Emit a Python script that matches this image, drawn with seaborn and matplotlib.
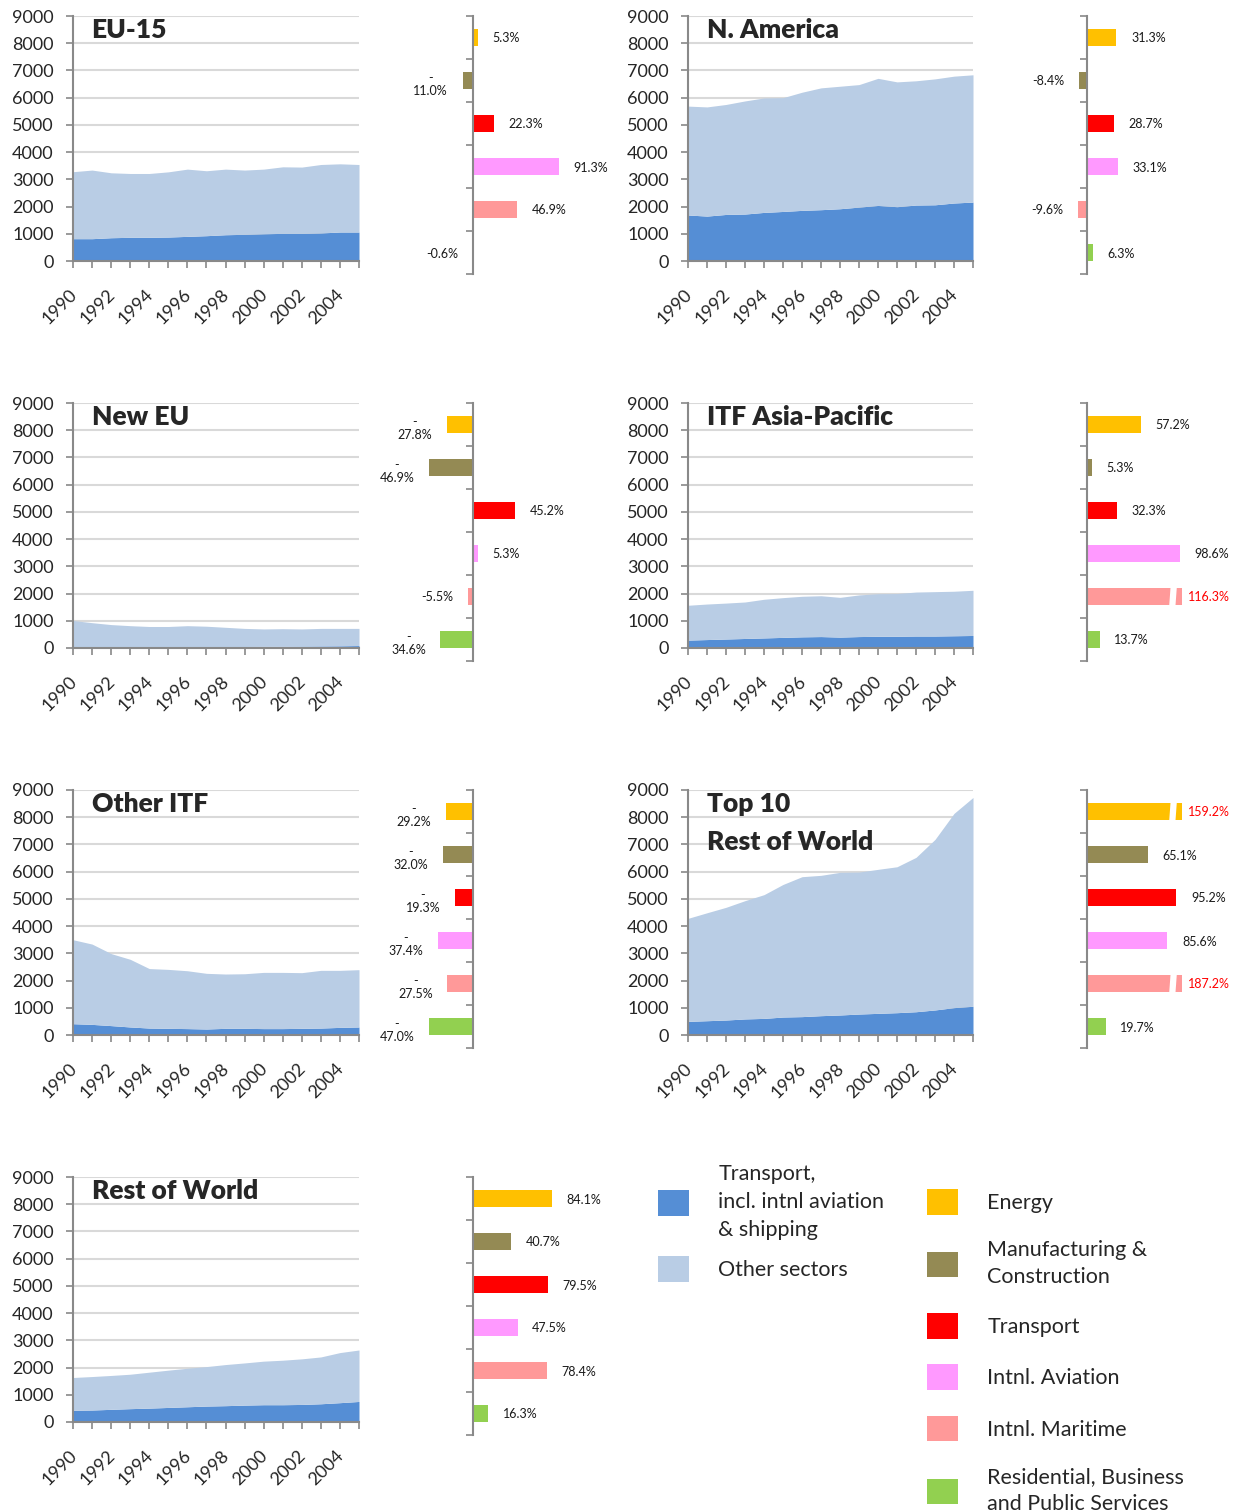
import matplotlib.pyplot as plt
import matplotlib.transforms as mtransforms
from matplotlib.patches import Patch
import seaborn as sns
import numpy as np
import pandas as pd

# ---- data -------------------------------------------------------------
years = list(range(1990, 2006))
year_labels = [str(y) if y % 2 == 0 and y < 2005 else "" for y in years]

# stacked areas: transport (incl. intnl aviation & shipping) + other sectors
eu15_transport = [820, 820, 855, 870, 870, 880, 905, 930, 965, 980, 1000, 1015, 1015, 1030, 1065, 1065]
eu15_other = [2460, 2520, 2385, 2345, 2345, 2395, 2470, 2385, 2410, 2360, 2375, 2445, 2435, 2515, 2505, 2480]

nam_transport = [1690, 1650, 1710, 1725, 1785, 1820, 1860, 1885, 1920, 1980, 2040, 1995, 2055, 2065, 2130, 2165]
nam_other = [4000, 4010, 4040, 4155, 4205, 4180, 4340, 4475, 4500, 4500, 4670, 4585, 4565, 4625, 4660, 4675]

neweu_transport = [40, 35, 35, 35, 40, 40, 45, 50, 50, 55, 60, 65, 70, 75, 80, 90]
neweu_other = [970, 895, 825, 785, 750, 750, 775, 750, 710, 665, 640, 645, 630, 645, 640, 630]

asia_transport = [290, 310, 330, 350, 370, 390, 410, 420, 400, 420, 430, 430, 440, 440, 450, 460]
asia_other = [1280, 1305, 1320, 1340, 1420, 1460, 1490, 1500, 1460, 1530, 1565, 1570, 1615, 1630, 1635, 1660]

oitf_transport = [415, 390, 345, 295, 255, 245, 235, 220, 245, 245, 235, 235, 245, 255, 280, 295]
oitf_other = [3085, 2950, 2645, 2485, 2185, 2165, 2125, 2045, 1995, 2005, 2065, 2065, 2045, 2120, 2095, 2105]

top10_transport = [500, 525, 550, 590, 610, 660, 675, 710, 735, 770, 795, 820, 855, 920, 1005, 1055]
top10_other = [3785, 3965, 4140, 4345, 4545, 4870, 5140, 5155, 5240, 5215, 5290, 5360, 5670, 6265, 7135, 7670]

row_transport = [430, 440, 465, 490, 510, 535, 560, 585, 600, 620, 635, 635, 645, 670, 710, 755]
row_other = [1205, 1230, 1245, 1265, 1320, 1370, 1415, 1450, 1510, 1550, 1600, 1635, 1675, 1720, 1840, 1890]

# % change 1990-2005 by sector
sectors = ["Energy", "Manufacturing &\nConstruction", "Transport", "Intnl. Aviation",
           "Intnl. Maritime", "Residential, Business\nand Public Services"]
sector_colors = ["#FFC000", "#948A54", "#FF0000", "#FF99FF", "#FF9999", "#92D050"]

eu15_change = [5.3, -11.0, 22.3, 91.3, 46.9, -0.6]
nam_change = [31.3, -8.4, 28.7, 33.1, -9.6, 6.3]
neweu_change = [-27.8, -46.9, 45.2, 5.3, -5.5, -34.6]
asia_change = [57.2, 5.3, 32.3, 98.6, 116.3, 13.7]
oitf_change = [-29.2, -32.0, -19.3, -37.4, -27.5, -47.0]
top10_change = [159.2, 65.1, 95.2, 85.6, 187.2, 19.7]
row_change = [84.1, 40.7, 79.5, 47.5, 78.4, 16.3]

area_labels = ["Transport,\nincl. intnl aviation\n& shipping", "Other sectors"]
area_colors = ["#558ED5", "#B9CDE5"]

panels = [
    ("EU-15", eu15_transport, eu15_other, eu15_change, 0, 0),
    ("N. America", nam_transport, nam_other, nam_change, 1, 0),
    ("New EU", neweu_transport, neweu_other, neweu_change, 0, 1),
    ("ITF Asia-Pacific", asia_transport, asia_other, asia_change, 1, 1),
    ("Other ITF", oitf_transport, oitf_other, oitf_change, 0, 2),
    ("Top 10\nRest of World", top10_transport, top10_other, top10_change, 1, 2),
    ("Rest of World", row_transport, row_other, row_change, 0, 3),
]

# ---- style ------------------------------------------------------------
sns.set_theme(style="white")
plt.rcParams["font.family"] = ["Lato", "DejaVu Sans"]
GRAY = "#898989"

W, H = 1239, 1512
fig = plt.figure(figsize=(W / 100, H / 100), dpi=100)


def px_box(x0, y0, x1, y1):
    return [x0 / W, 1 - y1 / H, (x1 - x0) / W, (y1 - y0) / H]


area_cols = [(73, 359), (688, 973)]
bar_cols = [(400, 620, 473), (1014, 1234, 1087)]
row_tops = [16, 403, 790, 1177]
PX_PER_PCT = 0.94
BAR_CAP = 101
BREAK_AT = 91.5

for title, transport, other, change, col, row in panels:
    top = row_tops[row]

    # stacked area
    ax = fig.add_axes(px_box(area_cols[col][0], top, area_cols[col][1], top + 245))
    ax.stackplot(years, transport, other, colors=area_colors, linewidth=0)
    ax.set_xlim(1990, 2005)
    ax.set_ylim(0, 9000)
    ax.set_yticks(range(0, 9001, 1000))
    ax.set_xticks(years)
    ax.set_xticklabels(year_labels, rotation=45, ha="right")
    ax.yaxis.grid(True, color="#D9D9D9", lw=1.5)
    ax.set_axisbelow(True)
    for s in ["top", "right"]:
        ax.spines[s].set_visible(False)
    for s in ["left", "bottom"]:
        ax.spines[s].set_color(GRAY)
        ax.spines[s].set_linewidth(1.5)
    ax.tick_params(axis="y", left=True, length=5, width=1.2, color=GRAY, pad=9, labelsize=13)
    ax.tick_params(axis="x", bottom=True, length=5, width=1.2, color=GRAY, pad=13, labelsize=13)
    shift = mtransforms.ScaledTranslation(7 / 100, 0, fig.dpi_scale_trans)
    for lab in ax.get_xticklabels():
        lab.set_transform(lab.get_transform() + shift)
    ax.text(0.065, 0.99, title, transform=ax.transAxes, ha="left", va="top",
            fontsize=19, fontweight="heavy", linespacing=1.7)

    # % change bars
    x0, x1, zero = bar_cols[col]
    bx = fig.add_axes(px_box(x0, top, x1, top + 258))
    df = pd.DataFrame({"sector": sectors, "change": [min(v, BAR_CAP) for v in change]})
    sns.barplot(data=df, x="change", y="sector", hue="sector", palette=sector_colors,
                orient="h", width=0.4, saturation=1, linewidth=0, legend=False, ax=bx)
    bx.set_xlim((x0 - zero) / PX_PER_PCT, (x1 - zero) / PX_PER_PCT)
    bx.set_ylim(5.5, -0.5)
    bx.set_xlabel("")
    bx.set_ylabel("")
    bx.set_xticks([])
    bx.set_yticks(np.arange(-0.5, 6, 1))
    bx.set_yticklabels([])
    for s in ["top", "right", "bottom"]:
        bx.spines[s].set_visible(False)
    bx.spines["left"].set_position(("data", 0))
    bx.spines["left"].set_color(GRAY)
    bx.spines["left"].set_linewidth(1.5)
    bx.tick_params(axis="y", left=True, direction="out", length=5, width=1.2, color=GRAY)

    for i, v in enumerate(change):
        if v > BAR_CAP:
            bx.plot([BREAK_AT - 1, BREAK_AT + 1], [i + 0.3, i - 0.3], color="white",
                    lw=4.5, solid_capstyle="butt")
            bx.annotate(f"{v:.1f}%", (BAR_CAP, i), xytext=(4, 0), textcoords="offset points",
                        ha="left", va="center_baseline", fontsize=9, color="red")
        elif v >= 0:
            bx.annotate(f"{v:.1f}%", (v, i), xytext=(10.5, 0), textcoords="offset points",
                        ha="left", va="center_baseline", fontsize=9, color="#1a1a1a")
        else:
            txt = f"-\n{abs(v):.1f}%" if v <= -10 else f"{v:.1f}%"
            bx.annotate(txt, (v, i), xytext=(-10.5, -1.5 if v <= -10 else 0),
                        textcoords="offset points", ha="right", va="center_baseline",
                        multialignment="center", fontsize=9, color="#1a1a1a", linespacing=1.15)

# ---- legends ----------------------------------------------------------
h_area = [Patch(facecolor=c, edgecolor="none") for c in area_colors]
leg1 = fig.legend(h_area, area_labels, loc="upper left", bbox_to_anchor=(658 / W, 1 - 1164 / H),
                  frameon=False, fontsize=15.5, handlelength=1.45, handleheight=1.45,
                  handletextpad=1.35, labelspacing=0.75, borderpad=0, borderaxespad=0)
h_sec = [Patch(facecolor=c, edgecolor="none") for c in sector_colors]
leg2 = fig.legend(h_sec, sectors, loc="upper left", bbox_to_anchor=(927 / W, 1 - 1189 / H),
                  frameon=False, fontsize=15.5, handlelength=1.45, handleheight=1.45,
                  handletextpad=1.35, labelspacing=1.2, borderpad=0, borderaxespad=0)
for t in leg1.get_texts():
    t.set_linespacing(1.5)
for t in leg2.get_texts():
    t.set_linespacing(1.42)

fig.savefig("out.png", dpi=100)
